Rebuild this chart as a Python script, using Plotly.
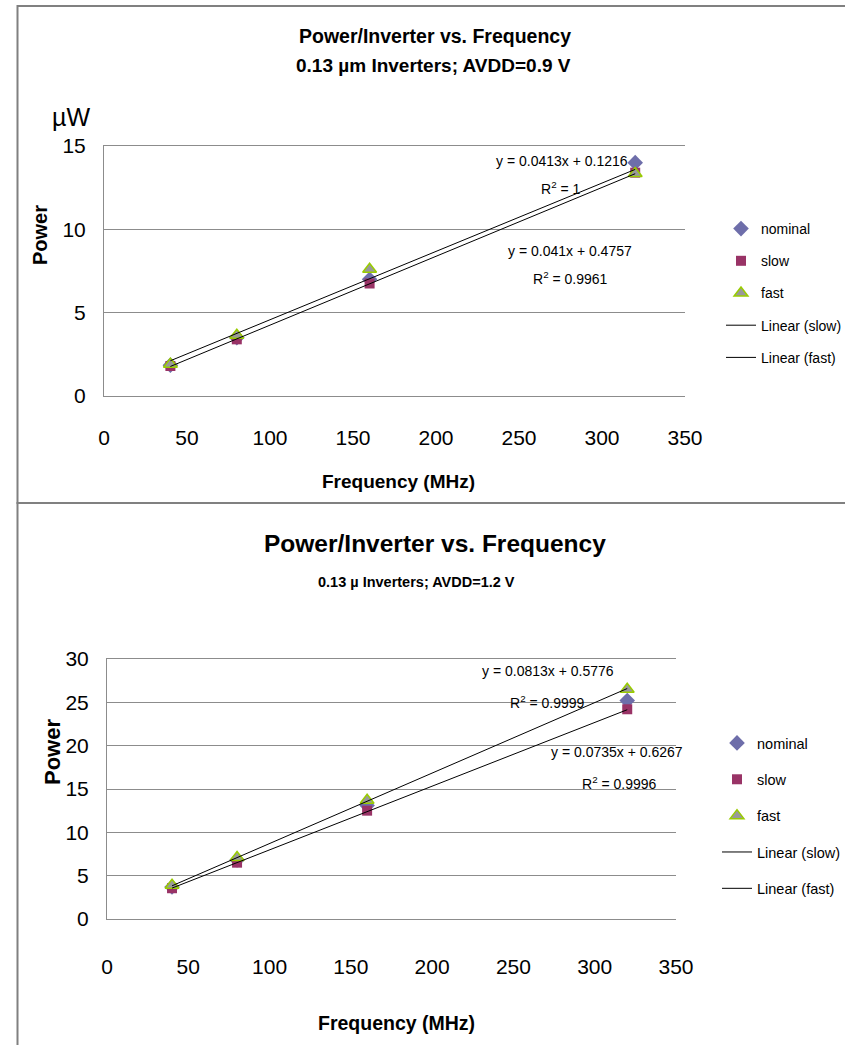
import plotly.graph_objects as go

W, H = 845, 1045
FONT = "Liberation Sans, Arial, sans-serif"

# ---------------- data ----------------
freq = [40, 80, 160, 320]

# top chart: AVDD = 0.9 V (µW)
top_nominal = [1.85, 3.5, 7.0, 14.0]
top_slow = [1.8, 3.4, 6.75, 13.4]
top_fast = [1.9, 3.65, 7.6, 13.35]
top_fit_slow = (0.0413, 0.1216)   # slope, intercept
top_fit_fast = (0.041, 0.4757)
top_r2_slow = "1"
top_r2_fast = "0.9961"

# bottom chart: AVDD = 1.2 V
bot_nominal = [3.7, 6.8, 13.1, 25.2]
bot_slow = [3.55, 6.5, 12.5, 24.2]
bot_fast = [3.9, 7.1, 13.7, 26.5]
bot_fit_fast = (0.0813, 0.5776)
bot_fit_slow = (0.0735, 0.6267)
bot_r2_fast = "0.9999"
bot_r2_slow = "0.9996"

x_ticks = [0, 50, 100, 150, 200, 250, 300, 350]

C_NOM = "#6E6EAA"
C_SLOW = "#993366"
C_FAST_FILL = "#999999"
C_FAST_LINE = "#99CC00"
GRID = "#8C8C8C"


def px_x(p):
    return p / W


def px_y(p):
    return 1 - p / H


fig = go.Figure()


def add_set(nom, slow, fast, fit_slow, fit_fast, xa, ya, leg):
    fig.add_trace(go.Scatter(x=freq, y=nom, mode="markers", name="nominal",
                             marker=dict(symbol="diamond", size=12, color=C_NOM),
                             xaxis=xa, yaxis=ya, legend=leg, legendgroup=leg + "a"))
    fig.add_trace(go.Scatter(x=freq, y=slow, mode="markers", name="slow",
                             marker=dict(symbol="square", size=10, color=C_SLOW),
                             xaxis=xa, yaxis=ya, legend=leg, legendgroup=leg + "b"))
    fig.add_trace(go.Scatter(x=freq, y=fast, mode="markers", name="fast",
                             marker=dict(symbol="triangle-up", size=12, color=C_FAST_FILL,
                                         line=dict(color=C_FAST_LINE, width=1.5)),
                             xaxis=xa, yaxis=ya, legend=leg, legendgroup=leg + "c"))
    xs = [freq[0], freq[-1]]
    fig.add_trace(go.Scatter(x=xs, y=[fit_slow[0] * v + fit_slow[1] for v in xs],
                             mode="lines", name="Linear (slow)",
                             line=dict(color="black", width=1),
                             xaxis=xa, yaxis=ya, legend=leg, legendgroup=leg + "d"))
    fig.add_trace(go.Scatter(x=xs, y=[fit_fast[0] * v + fit_fast[1] for v in xs],
                             mode="lines", name="Linear (fast)",
                             line=dict(color="black", width=1),
                             xaxis=xa, yaxis=ya, legend=leg, legendgroup=leg + "e"))


add_set(top_nominal, top_slow, top_fast, top_fit_slow, top_fit_fast, "x", "y", "legend")
add_set(bot_nominal, bot_slow, bot_fast, bot_fit_slow, bot_fit_fast, "x2", "y2", "legend2")

axis_common = dict(showgrid=False, zeroline=False, showline=True, linecolor=GRID,
                   linewidth=1, mirror=True, ticks="outside", tickcolor="rgba(0,0,0,0)",
                   tickvals=x_ticks, range=[0, 350], fixedrange=True, automargin=False)

fig.update_layout(
    width=W, height=H, margin=dict(l=0, r=0, t=0, b=0, autoexpand=False),
    paper_bgcolor="white", plot_bgcolor="white",
    font=dict(family=FONT, color="black"),
    showlegend=True,
    xaxis=dict(domain=[px_x(104), px_x(685)], anchor="y", ticklen=23,
               tickfont=dict(size=21), **axis_common),
    yaxis=dict(domain=[px_y(396), px_y(146)], anchor="x", range=[0, 15],
               tickvals=[0, 5, 10, 15], showgrid=True, gridcolor=GRID, gridwidth=1,
               zeroline=False, showline=True, linecolor=GRID, ticks="outside",
               tickcolor="rgba(0,0,0,0)", ticklen=13, tickfont=dict(size=21),
               automargin=False),
    xaxis2=dict(domain=[px_x(107), px_x(676)], anchor="y2", ticklen=29,
                tickfont=dict(size=21), **axis_common),
    yaxis2=dict(domain=[px_y(919), px_y(659)], anchor="x2", range=[0, 30],
                tickvals=[0, 5, 10, 15, 20, 25, 30], showgrid=True, gridcolor=GRID,
                gridwidth=1, zeroline=False, showline=True, linecolor=GRID,
                ticks="outside", tickcolor="rgba(0,0,0,0)", ticklen=13,
                tickfont=dict(size=21), automargin=False),
    legend=dict(x=px_x(721), y=px_y(213), xanchor="left", yanchor="top",
                font=dict(size=14), traceorder="grouped", tracegroupgap=11,
                bgcolor="rgba(0,0,0,0)", itemclick=False),
    legend2=dict(x=px_x(717), y=px_y(727), xanchor="left", yanchor="top",
                 font=dict(size=14.5), traceorder="grouped", tracegroupgap=14.5,
                 bgcolor="rgba(0,0,0,0)", itemclick=False),
)

ann = []


def paper_text(text, x, y, size, bold=False, angle=0):
    ann.append(dict(text=f"<b>{text}</b>" if bold else text, x=px_x(x), y=px_y(y),
                    xref="paper", yref="paper", showarrow=False,
                    font=dict(size=size, family=FONT, color="black"),
                    xanchor="center", yanchor="middle", textangle=angle))


def data_text(text, x, y, xa, ya, size):
    ann.append(dict(text=text, x=x, y=y, xref=xa, yref=ya, showarrow=False,
                    font=dict(size=size, family=FONT, color="black"),
                    xanchor="center", yanchor="middle"))


# top chart texts
paper_text("Power/Inverter vs. Frequency", 435, 36, 19.5, bold=True)
paper_text("0.13 µm Inverters; AVDD=0.9 V", 433, 66, 19, bold=True)
paper_text("µW", 71, 117, 25)
paper_text("Power", 40, 235, 20, bold=True, angle=-90)
paper_text("Frequency (MHz)", 398, 482, 19, bold=True)
data_text(f"y = {top_fit_slow[0]}x + {top_fit_slow[1]}", 276, 14.1, "x", "y", 14)
data_text(f"R<sup>2</sup> = {top_r2_slow}", 275, 12.5, "x", "y", 14)
data_text(f"y = {top_fit_fast[0]}x + {top_fit_fast[1]}", 281, 8.7, "x", "y", 14)
data_text(f"R<sup>2</sup> = {top_r2_fast}", 281, 7.07, "x", "y", 14)

# bottom chart texts
paper_text("Power/Inverter vs. Frequency", 435, 543, 24.5, bold=True)
paper_text("0.13 µ Inverters; AVDD=1.2 V", 416, 582, 14.5, bold=True)
paper_text("Power", 52, 752, 22, bold=True, angle=-90)
paper_text("Frequency (MHz)", 396, 1023, 19.5, bold=True)
data_text(f"y = {bot_fit_fast[0]}x + {bot_fit_fast[1]}", 271, 28.6, "x2", "y2", 14)
data_text(f"R<sup>2</sup> = {bot_r2_fast}", 271, 25.0, "x2", "y2", 14)
data_text(f"y = {bot_fit_slow[0]}x + {bot_fit_slow[1]}", 314, 19.3, "x2", "y2", 14)
data_text(f"R<sup>2</sup> = {bot_r2_slow}", 315, 15.7, "x2", "y2", 14)

fig.update_layout(annotations=ann)

# chart frames
fig.add_shape(type="rect", xref="paper", yref="paper",
              x0=px_x(17.5), x1=1.05, y0=px_y(503), y1=px_y(6),
              line=dict(color="#808080", width=2), layer="below")
fig.add_shape(type="rect", xref="paper", yref="paper",
              x0=px_x(17.5), x1=1.05, y0=-0.05, y1=px_y(503),
              line=dict(color="#808080", width=2), layer="below")

fig.write_html("out.html")
